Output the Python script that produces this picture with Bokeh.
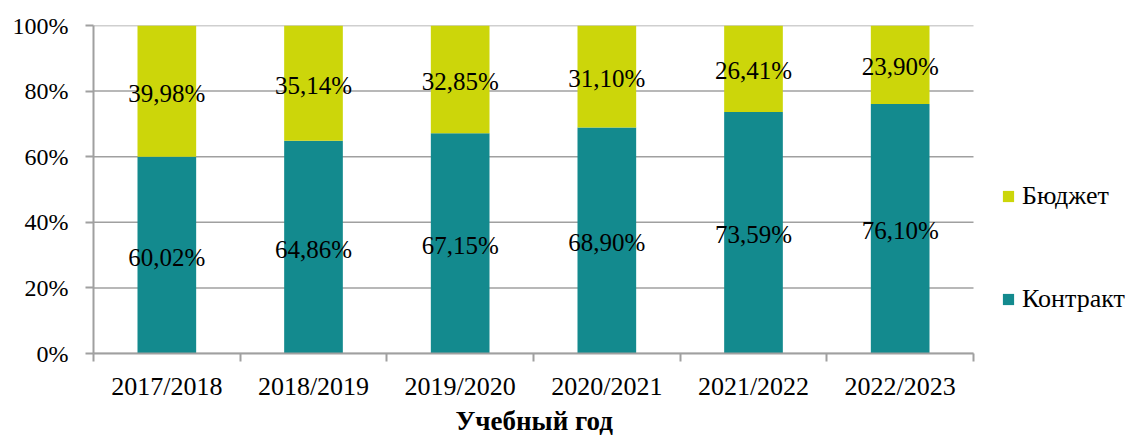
from bokeh.plotting import figure
from bokeh.models import ColumnDataSource, FixedTicker, NumeralTickFormatter, Legend, LegendItem, Title
from bokeh.core.properties import value
from bokeh.embed import file_html
from bokeh.resources import INLINE

years = ["2017/2018", "2018/2019", "2019/2020", "2020/2021", "2021/2022", "2022/2023"]
kontrakt = [60.02, 64.86, 67.15, 68.90, 73.59, 76.10]
budget = [39.98, 35.14, 32.85, 31.10, 26.41, 23.90]
y_ticks = [0, 0.2, 0.4, 0.6, 0.8, 1.0]

C_K = "#138A8E"
C_B = "#CCD60A"
FONT = "Liberation Serif"
GRAY = "#A0A0A0"

n = len(years)
xs = [i + 0.5 for i in range(n)]
k = [v / 100 for v in kontrakt]
b = [v / 100 for v in budget]
src = ColumnDataSource(dict(
    x=xs, k=k, b=b,
    k_mid=[v / 2 for v in k],
    b_mid=[kk + bb / 2 for kk, bb in zip(k, b)],
    k_lab=[f"{v:.2f}%".replace(".", ",") for v in kontrakt],
    b_lab=[f"{v:.2f}%".replace(".", ",") for v in budget],
))

# frame spans to the right edge so the legend can sit inside it; axis/grid bounded to the categories
x_end = n * 1035 / 880
p = figure(width=1128, height=435, x_range=(0, x_end), y_range=(0, 1),
           output_backend="svg", toolbar_location=None,
           min_border_left=93, min_border_right=0, min_border_top=25, min_border_bottom=82)
p.outline_line_color = None
p.background_fill_color = "white"
p.xgrid.grid_line_color = None
p.ygrid.grid_line_color = None

# horizontal grid lines, limited to the category area
p.segment(x0=[0] * len(y_ticks), x1=[n] * len(y_ticks), y0=y_ticks, y1=y_ticks,
          line_color=GRAY, line_width=1.5)

rs = p.vbar_stack(["k", "b"], x="x", width=0.4, source=src, color=[C_K, C_B], line_color=None)

for ycol, lcol in (("k_mid", "k_lab"), ("b_mid", "b_lab")):
    p.text(x="x", y=ycol, text=lcol, source=src, text_align="center", text_baseline="middle",
           y_offset=2, text_font=value(FONT), text_font_size="25px", text_color="black")

# axes
p.xaxis.bounds = (0, n)
p.xaxis.ticker = FixedTicker(ticks=xs, minor_ticks=list(range(n + 1)))
p.xaxis.major_label_overrides = {x: y for x, y in zip(xs, years)}
p.xaxis.major_tick_line_color = None
p.xaxis.minor_tick_line_color = GRAY
p.xaxis.minor_tick_line_width = 2
p.xaxis.minor_tick_in = 0
p.xaxis.minor_tick_out = 8
p.xaxis.major_tick_out = 8
p.xaxis.axis_line_color = GRAY
p.xaxis.axis_line_width = 2
p.xaxis.major_label_text_font = FONT
p.xaxis.major_label_text_font_size = "26px"
p.xaxis.major_label_text_color = "black"
p.xaxis.major_label_standoff = 10

p.add_layout(Title(text="Учебный год", align="left", offset=362, standoff=0,
                   text_font=FONT, text_font_size="27px", text_font_style="bold",
                   text_color="black"), "below")

p.yaxis.ticker = FixedTicker(ticks=y_ticks, minor_ticks=[])
p.yaxis.formatter = NumeralTickFormatter(format="0%")
p.yaxis.major_tick_line_color = GRAY
p.yaxis.major_tick_line_width = 2
p.yaxis.major_tick_in = 0
p.yaxis.major_tick_out = 8
p.yaxis.axis_line_color = GRAY
p.yaxis.axis_line_width = 2
p.yaxis.major_label_text_font = FONT
p.yaxis.major_label_text_font_size = "24px"
p.yaxis.major_label_text_color = "black"
p.yaxis.major_label_standoff = 17

legend = Legend(items=[LegendItem(label="Бюджет", renderers=[rs[1]]),
                       LegendItem(label="Контракт", renderers=[rs[0]])],
                location=(908, 39), orientation="vertical")
legend.label_text_font = FONT
legend.label_text_font_size = "26px"
legend.label_text_color = "black"
legend.glyph_width = 14
legend.glyph_height = 14
legend.label_standoff = 7
legend.spacing = 73
legend.padding = 0
legend.margin = 0
legend.border_line_color = None
legend.background_fill_alpha = 0
p.add_layout(legend, "center")

open("out.html", "w").write(file_html(p, INLINE))
